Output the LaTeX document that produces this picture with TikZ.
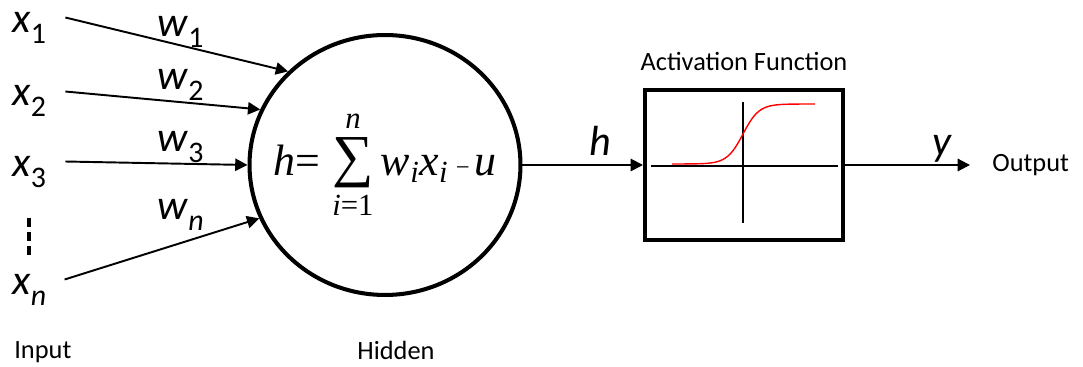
\RequirePackage{fix-cm}
\documentclass[tikz,border=0pt]{standalone}
\usepackage{amsmath}
\usepackage{fontspec}
\setmainfont{Carlito}
\newfontfamily\tms{Liberation Serif}
\usetikzlibrary{positioning,arrows.meta,shapes.geometric}

\newcommand{\sublab}[2]{\textit{#1}\raisebox{-6pt}{\fontsize{17}{19}\selectfont #2}}
\newcommand{\tv}[1]{\text{\tms\itshape #1}}

\begin{document}
\begin{tikzpicture}[
  x=0.02cm, y=-0.02cm,
  var/.style={font=\fontsize{24}{28}\selectfont, inner sep=0pt, anchor=base west},
  lbl/.style={font=\fontsize{15}{18}\selectfont, inner sep=0pt},
  conn/.style={-{Triangle[length=7pt,width=7pt]}, line width=1.1pt},
  neuron/.style={ellipse, draw, line width=2.3pt, minimum width=5.42cm, minimum height=5.2cm, inner sep=0pt},
  actbox/.style={draw, line width=2.3pt, minimum width=3.96cm, minimum height=3cm, inner sep=0pt},
  axis/.style={line width=0.75pt},
]
  \useasboundingbox (0,0) rectangle (1083,367);

  % Inputs
  \node[var] (x1) at (12,33) {\sublab{x}{1}};
  \node[var] (x2) at (12,106) {\sublab{x}{2}};
  \node[var] (x3) at (12,177) {\sublab{x}{3}};
  \node[var] (xn) at (12,295) {\sublab{x}{\textit{n}}};
  \draw[line width=2pt, dash pattern=on 5pt off 3pt] (29,218) -- (29,257);

  % Weights
  \node[var] (w1) at (157,37) {\sublab{w}{1}};
  \node[var] (w2) at (157,90) {\sublab{w}{2}};
  \node[var] (w3) at (157,152) {\sublab{w}{3}};
  \node[var] (wn) at (157,220) {\sublab{w}{\textit{n}}};

  % Hidden unit
  \node[neuron] (hid) at (385,165) {};
  \node[inner sep=0pt, font=\fontsize{25}{28}\selectfont] (sumf) at (hid.center)
    {$\tv{h}\text{\tms =}\mkern2mu\mathop{\text{\tms\fontsize{33}{33}\selectfont ∑}}\limits_{\tv{i}\text{\tms =1}}^{\tv{n}}\tv{w}_{\tv{i}}\tv{x}_{\tv{i}}\mkern3mu\text{\tms\fontsize{14}{14}\selectfont −}\mkern2mu\tv{u}$};
  \node[lbl, below=0.88cm of hid, xshift=0.22cm] (hidlbl) {Hidden};
  \node[lbl, anchor=base west] (inlbl) at (14,359) {Input};

  % Activation function
  \node[actbox] (act) at (744,165) {};
  \node[lbl, above=0.34cm of act] (actlbl) {Activation Function};
  \draw[axis] (651,166) -- (838,166);
  \draw[axis] (743,102) -- (743,223);
  \draw[red, line width=0.8pt] plot[domain=672:815, samples=60, smooth] (\x, {164-60/(1+exp(-(\x-743)/8))});
  \node[lbl, anchor=west] (outlbl) at (992,165) {Output};

  % Connectors
  \draw[conn] ([shift={(19,5)}]x1.north east) -- (hid.136);
  \draw[conn] ([shift={(19,6)}]x2.north east) -- (hid.156);
  \draw[conn] ([shift={(19,5)}]x3.north east) -- (hid.180);
  \draw[conn] ([shift={(18,5)}]xn.north east) -- (hid.203);
  \draw[conn] (hid) -- node[var, anchor=south, pos=0.65, yshift=5pt] (hlbl) {\textit{h}} (act);
  \draw[conn, shorten >=12.5pt] (act) -- node[var, anchor=south, pos=0.66, yshift=1pt] (ylbl) {\textit{y}} (outlbl);
\end{tikzpicture}
\end{document}
